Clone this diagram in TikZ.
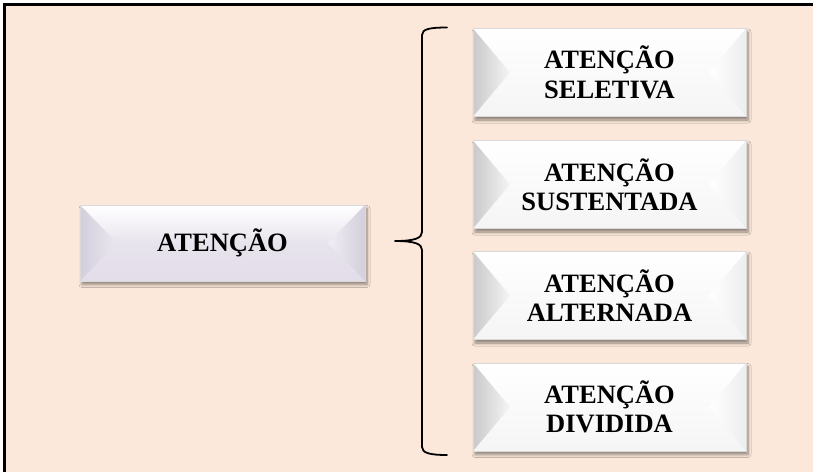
\documentclass[tikz,border=0pt]{standalone}
\usepackage{fontspec}
\setmainfont{Liberation Serif}
\usetikzlibrary{shadows.blur,calc}
\definecolor{peach}{HTML}{FCE8DA}
\definecolor{lav}{HTML}{E2DDE9}
\definecolor{lavdark}{HTML}{D3CEDB}
\definecolor{bevgray}{HTML}{C9C9C9}
\tikzset{
  boxtext/.style={font=\fontsize{26.5}{29.5}\selectfont\bfseries, align=center, inner sep=0pt, text=black},
  whitebox/.style={boxtext, minimum width=273pt, minimum height=88pt,
    draw=black!15, line width=0.5pt,
    blur shadow={shadow xshift=2pt, shadow yshift=-3.5pt, shadow blur steps=6, shadow opacity=45, shadow blur radius=3pt},
    path picture={
      \shade[top color=white, bottom color=black!4] (path picture bounding box.north west) rectangle (path picture bounding box.south east);
      \shade[left color=bevgray, right color=black!4] (path picture bounding box.north west) -- ([xshift=37pt]path picture bounding box.west) -- (path picture bounding box.south west) -- cycle;
      \shade[left color=white, right color=black!7] (path picture bounding box.north east) -- ([xshift=-37pt]path picture bounding box.east) -- (path picture bounding box.south east) -- cycle;
    }},
  lavbox/.style={boxtext, minimum width=285pt, minimum height=76pt,
    draw=black!15, line width=0.5pt,
    blur shadow={shadow xshift=2pt, shadow yshift=-3.5pt, shadow blur steps=6, shadow opacity=45, shadow blur radius=3pt},
    path picture={
      \shade[top color=white, bottom color=lav, middle color=lav!80] (path picture bounding box.north west) rectangle (path picture bounding box.south east);
      \shade[left color=lavdark, right color=lav!70] (path picture bounding box.north west) -- ([xshift=37pt]path picture bounding box.west) -- (path picture bounding box.south west) -- cycle;
      \shade[left color=lav!50, right color=lavdark] (path picture bounding box.north east) -- ([xshift=-37pt]path picture bounding box.east) -- (path picture bounding box.south east) -- cycle;
    }},
  bracestyle/.style={draw=black, line width=1.8pt, line cap=round, line join=round}
}
\begin{document}
\begin{tikzpicture}[x=1pt,y=-1pt]
\useasboundingbox (0,0) rectangle (813,472);
\fill[white] (0,0) rectangle (813,472);
\fill[peach] (5.5,5) rectangle (813,472);
\draw[line width=2.6pt] (4.6,472) -- (4.6,4.2) -- (813,4.2);

\node[lavbox] (att) at (222.5,243) {ATENÇÃO};

\node[whitebox] (sel) at (609.5,72.5) {ATENÇÃO\\SELETIVA};
\node[whitebox] (sus) at (609.5,184.5) {ATENÇÃO\\SUSTENTADA};
\node[whitebox] (alt) at (609.5,295.5) {ATENÇÃO\\ALTERNADA};
\node[whitebox] (div) at (609.5,407) {ATENÇÃO\\DIVIDIDA};

\coordinate (bt) at (447,27.5);
\coordinate (bb) at (447,455);
\coordinate (tip) at (395,241);
\draw[bracestyle] (bt) .. controls (430,27.5) and (422,29) .. (422,35)
  -- (422,232) .. controls (422,238) and (415,241) .. (tip)
  .. controls (415,241) and (422,244) .. (422,250)
  -- (422,447) .. controls (422,453) and (430,455) .. (bb);
\end{tikzpicture}
\end{document}
